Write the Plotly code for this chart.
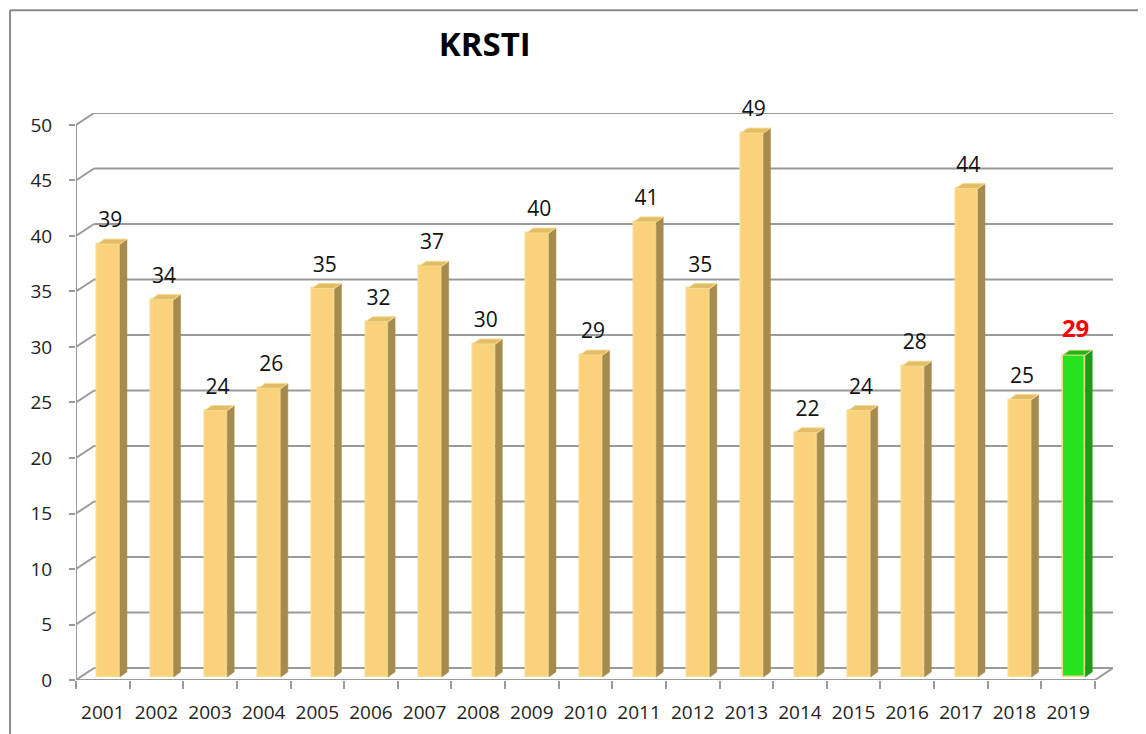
import plotly.graph_objects as go

years = ["2001", "2002", "2003", "2004", "2005", "2006", "2007", "2008", "2009", "2010",
         "2011", "2012", "2013", "2014", "2015", "2016", "2017", "2018", "2019"]
values = [39, 34, 24, 26, 35, 32, 37, 30, 40, 29, 41, 35, 49, 22, 24, 28, 44, 25, 29]
y_ticks = [0, 5, 10, 15, 20, 25, 30, 35, 40, 45, 50]
highlight = "2019"

# fake 3d: wall offset (in axis units) and bar depth
WALL_DX, WALL_DY = 0.337, 1.08
LIFT_DY = 0.27
BAR_X0, BAR_W = -0.10, 0.42
DEPTH_DX, DEPTH_DY = 0.13, 0.45
LABEL_PAD = 0.6

GRID = "#9a9a9a"
FACE, SIDE, TOP, EDGE = "#F9D27B", "#A68B4E", "#E3BD66", "#F6DB8E"
G_FACE, G_SIDE, G_TOP = "#28E21F", "#1E9A17", "#22B51B"

n = len(years)
idx = list(range(n))
is_hl = [y == highlight for y in years]

fig = go.Figure()


def faces(sel):
    # side and top faces of the bars as polygons
    sx, sy, tx, ty = [], [], [], []
    for i, v in enumerate(values):
        if is_hl[i] != sel:
            continue
        x0 = i + BAR_X0
        x1 = x0 + BAR_W
        b = LIFT_DY
        t = v + LIFT_DY
        sx += [x1, x1 + DEPTH_DX, x1 + DEPTH_DX, x1, x1, None]
        sy += [b, b + DEPTH_DY, t + DEPTH_DY, t, b, None]
        tx += [x0, x1, x1 + DEPTH_DX, x0 + DEPTH_DX, x0, None]
        ty += [t, t, t + DEPTH_DY, t + DEPTH_DY, t, None]
    return sx, sy, tx, ty


for sel, side_c, top_c in [(False, SIDE, TOP), (True, G_SIDE, G_TOP)]:
    sx, sy, tx, ty = faces(sel)
    fig.add_trace(go.Scatter(x=sx, y=sy, fill="toself", fillcolor=side_c, mode="lines",
                             line=dict(color=side_c, width=0.5), hoverinfo="skip", showlegend=False))
    fig.add_trace(go.Scatter(x=tx, y=ty, fill="toself", fillcolor=top_c, mode="lines",
                             line=dict(color=EDGE, width=1), hoverinfo="skip", showlegend=False))

fig.add_trace(go.Bar(
    x=idx, y=values, base=[LIFT_DY] * n, offset=BAR_X0, width=BAR_W,
    marker=dict(color=[G_FACE if h else FACE for h in is_hl], line=dict(color=EDGE, width=1.5)),
    showlegend=False,
))

# value labels
fig.add_trace(go.Scatter(
    x=[i + BAR_X0 + BAR_W / 2 + 0.03 for i in idx],
    y=[v + LIFT_DY + DEPTH_DY + LABEL_PAD for v in values],
    mode="text",
    text=[f"<b>{v}</b>" if h else str(v) for v, h in zip(values, is_hl)],
    textposition="top center",
    textfont=dict(family="Open Sans", size=[24 if h else 21 for h in is_hl],
                  color=["#FF0000" if h else "#111111" for h in is_hl]),
    cliponaxis=False,
    showlegend=False, hoverinfo="skip",
))

shapes = []
left, right = -0.5, n - 0.5
for t in y_ticks:
    shapes.append(dict(type="line", xref="x", yref="y", x0=left + WALL_DX, x1=right + WALL_DX,
                       y0=t + WALL_DY, y1=t + WALL_DY, line=dict(color=GRID, width=2), layer="below"))
    shapes.append(dict(type="line", xref="x", yref="y", x0=left, x1=left + WALL_DX,
                       y0=t, y1=t + WALL_DY, line=dict(color=GRID, width=2), layer="below"))
# floor front edge, right diagonal, front y axis
shapes.append(dict(type="line", xref="x", yref="y", x0=left, x1=right, y0=0, y1=0,
                   line=dict(color=GRID, width=2), layer="below"))
shapes.append(dict(type="line", xref="x", yref="y", x0=right, x1=right + WALL_DX, y0=0, y1=WALL_DY,
                   line=dict(color=GRID, width=2), layer="below"))
shapes.append(dict(type="line", xref="x", yref="y", x0=left, x1=left, y0=0, y1=y_ticks[-1],
                   line=dict(color=GRID, width=2), layer="below"))
# chart border
shapes.append(dict(type="line", xref="paper", yref="paper", x0=-0.0636, x1=1.2, y0=1.181, y1=1.181,
                   line=dict(color="#8a8a8a", width=2)))
shapes.append(dict(type="line", xref="paper", yref="paper", x0=-0.0636, x1=-0.0636, y0=-0.2, y1=1.181,
                   line=dict(color="#8a8a8a", width=2)))

fig.update_layout(
    width=1146, height=734,
    paper_bgcolor="white", plot_bgcolor="white",
    margin=dict(l=68, r=41, t=105, b=62),
    title=dict(text="<b>KRSTI</b>", x=0.416, xanchor="center", y=0.95, yanchor="middle",
               font=dict(family="Open Sans", size=33, color="#000000")),
    bargap=0,
    shapes=shapes,
    xaxis=dict(
        range=[left, right + WALL_DX], tickmode="array", tickvals=idx, ticktext=years,
        ticks="", showgrid=False, zeroline=False, showline=False,
        tickfont=dict(family="Open Sans", size=19, color="#222222"),
        ticklabelstandoff=19,
        minor=dict(tickmode="array", tickvals=[i - 0.5 for i in range(n + 1)], ticks="outside",
                   ticklen=8, tickwidth=2, tickcolor=GRID, showgrid=False),
    ),
    yaxis=dict(
        range=[0, y_ticks[-1] + WALL_DY], tickmode="array", tickvals=y_ticks,
        ticks="outside", ticklen=6, tickwidth=2, tickcolor=GRID,
        showgrid=False, zeroline=False, showline=False,
        tickfont=dict(family="Open Sans", size=19, color="#222222"),
        ticklabelstandoff=13,
    ),
)

fig.write_html("out.html")
